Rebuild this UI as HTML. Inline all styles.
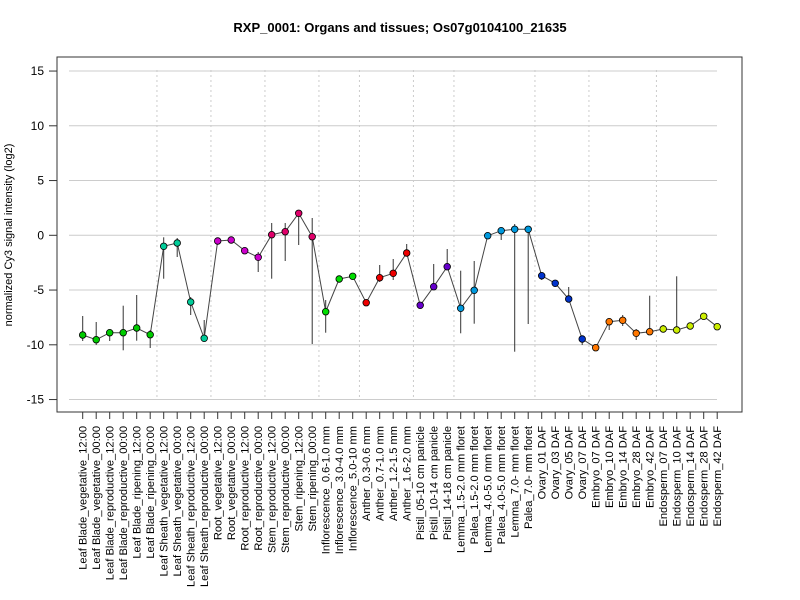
<!DOCTYPE html>
<html><head><meta charset="utf-8"><style>body{margin:0;background:#fff}svg{display:block}text{font-family:"Liberation Sans",sans-serif}</style></head>
<body>
<svg id="s" width="800" height="600" xmlns="http://www.w3.org/2000/svg"></svg>
<script>
const names=["Leaf Blade_vegetative_12:00","Leaf Blade_vegetative_00:00","Leaf Blade_reproductive_12:00","Leaf Blade_reproductive_00:00","Leaf Blade_ripening_12:00","Leaf Blade_ripening_00:00","Leaf Sheath_vegetative_12:00","Leaf Sheath_vegetative_00:00","Leaf Sheath_reproductive_12:00","Leaf Sheath_reproductive_00:00","Root_vegetative_12:00","Root_vegetative_00:00","Root_reproductive_12:00","Root_reproductive_00:00","Stem_reproductive_12:00","Stem_reproductive_00:00","Stem_ripening_12:00","Stem_ripening_00:00","Inflorescence_0.6-1.0 mm","Inflorescence_3.0-4.0 mm","Inflorescence_5.0-10 mm","Anther_0.3-0.6 mm","Anther_0.7-1.0 mm","Anther_1.2-1.5 mm","Anther_1.6-2.0 mm","Pistil_05-10 cm panicle","Pistil_10-14 cm panicle","Pistil_14-18 cm panicle","Lemma_1.5-2.0 mm floret","Palea_1.5-2.0 mm floret","Lemma_4.0-5.0 mm floret","Palea_4.0-5.0 mm floret","Lemma_7.0- mm floret","Palea_7.0- mm floret","Ovary_01 DAF","Ovary_03 DAF","Ovary_05 DAF","Ovary_07 DAF","Embryo_07 DAF","Embryo_10 DAF","Embryo_14 DAF","Embryo_28 DAF","Embryo_42 DAF","Endosperm_07 DAF","Endosperm_10 DAF","Endosperm_14 DAF","Endosperm_28 DAF","Endosperm_42 DAF"];
const d=[[335,316,341],[339.7,322,345],[332.7,330,341],[332.7,305.7,350.3],[328,295,340.7],[334.7,330,348],[246.3,237.3,278.7],[243,238,257],[302,297,315],[338.3,320,341],[241,239,243],[240,239,241],[250.7,249,252],[257.3,252,272],[234.7,223,278.7],[231.7,223,261],[213.3,211,245],[236.7,218,344],[311.7,300,332.7],[279,277,281],[276.3,275,278],[302.7,301,304],[277.7,265,282],[273.3,259,280],[253,244,256],[305.3,303,307],[286.7,264,290],[266.7,249,268],[308.3,270.7,333.3],[290.3,261,323.7],[235.7,234,237],[230.7,229,240],[229.3,224,351.7],[229.3,228,324],[275.7,273,280],[283.3,281,286],[299,287,302],[339,336,345],[347.7,346,349],[321.7,318,330],[320.3,315,326],[333.3,329,340],[331.7,295.7,333],[329,325,332],[330,276.3,332],[326,324,328],[316.3,314,318],[326.7,325,328]];
const cols=[];const g=[[6,"#00cc00"],[4,"#00cc99"],[4,"#cc00cc"],[4,"#e0006a"],[3,"#00dd00"],[4,"#ee0000"],[3,"#6600cc"],[6,"#0099dd"],[4,"#0033cc"],[5,"#ff7700"],[5,"#ccee00"]];
g.forEach(([n,c])=>{for(let i=0;i<n;i++)cols.push(c)});
const X=i=>82.7+i*13.5;
let s=`<text x="400" y="32" text-anchor="middle" font-size="13" font-weight="bold">RXP_0001: Organs and tissues; Os07g0104100_21635</text>`;
s+=`<rect x="57" y="57" width="685" height="355" fill="none" stroke="#333"/>`;
[15,10,5,0,-5,-10,-15].forEach(v=>{const y=235.3-v*10.95;s+=`<line x1="69" x2="717" y1="${y}" y2="${y}" stroke="#ccc"/><line x1="49" x2="57" y1="${y}" y2="${y}" stroke="#333"/><text x="44" y="${y+4}" text-anchor="end" font-size="12">${v}</text>`});
[5,9,13,17,20,24,27,33,37,42].forEach(i=>{const x=X(i+0.5);s+=`<line x1="${x}" x2="${x}" y1="70" y2="399" stroke="#ccc" stroke-dasharray="2,3"/>`});
s+=`<text transform="translate(12,235) rotate(-90)" text-anchor="middle" font-size="11">normalized Cy3 signal intensity (log2)</text>`;
d.forEach((p,i)=>{s+=`<line x1="${X(i)}" x2="${X(i)}" y1="${p[1]}" y2="${p[2]}" stroke="#333"/>`});
s+=`<polyline fill="none" stroke="#444" points="${d.map((p,i)=>X(i)+","+p[0]).join(" ")}"/>`;
d.forEach((p,i)=>{s+=`<circle cx="${X(i)}" cy="${p[0]}" r="3.3" fill="${cols[i]}" stroke="#000" stroke-width="0.8"/>`;
s+=`<line x1="${X(i)}" x2="${X(i)}" y1="412" y2="419" stroke="#333"/>`;
s+=`<text transform="translate(${X(i)+4},426) rotate(-90)" text-anchor="end" font-size="11.1">${names[i]}</text>`});
document.getElementById("s").innerHTML=s;
</script>
</body></html>
